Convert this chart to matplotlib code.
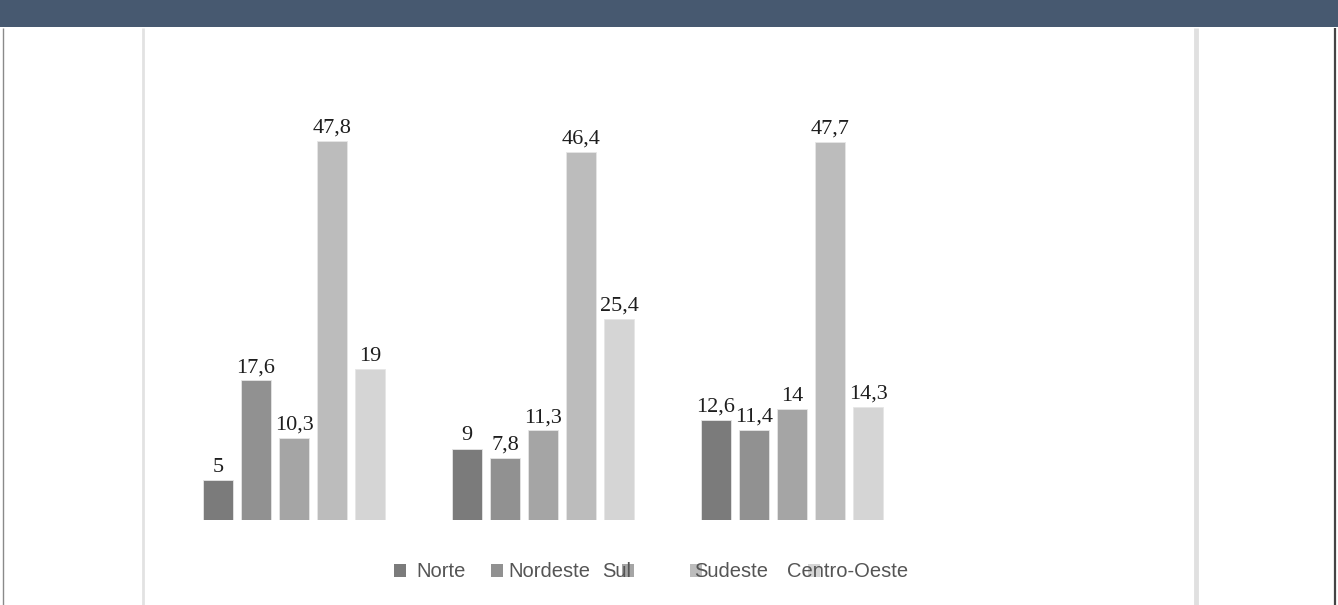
import matplotlib
matplotlib.use("Agg")
import matplotlib.pyplot as plt
from matplotlib.patches import Rectangle
from matplotlib.lines import Line2D
import numpy as np

# data
groups = ["G1", "G2", "G3"]
regions = ["Norte", "Nordeste", "Sul", "Sudeste", "Centro-Oeste"]
norte = [5, 9, 12.6]
nordeste = [17.6, 7.8, 11.4]
sul = [10.3, 11.3, 14]
sudeste = [47.8, 46.4, 47.7]
centro_oeste = [19, 25.4, 14.3]
series = [norte, nordeste, sul, sudeste, centro_oeste]

colors = ["#7b7b7b", "#919191", "#a5a5a5", "#bcbcbc", "#d5d5d5"]

W, H = 1338, 605


def fx(px):
    return px / W


def fy(py):
    return 1 - py / H


def fmt(v):
    s = f"{v:g}"
    return s.replace(".", ",")


fig = plt.figure(figsize=(W / 100, H / 100), dpi=100)
fig.patch.set_facecolor("white")

# frame lines, then header band on top
fig.add_artist(Line2D([fx(3), fx(3)], [fy(28), 0], transform=fig.transFigure,
                      color="#8a8a8a", lw=1.0, solid_capstyle="butt"))
fig.add_artist(Line2D([fx(1335), fx(1335)], [fy(28), 0], transform=fig.transFigure,
                      color="#444444", lw=1.6, solid_capstyle="butt"))
fig.add_artist(Line2D([fx(143), fx(143)], [fy(28), 0], transform=fig.transFigure,
                      color="#e2e2e2", lw=2.0, solid_capstyle="butt"))
fig.add_artist(Line2D([fx(1196), fx(1196)], [fy(28), 0], transform=fig.transFigure,
                      color="#e0e0e0", lw=3.5, solid_capstyle="butt"))
fig.add_artist(Rectangle((0, fy(27)), 1, 27 / H, transform=fig.transFigure,
                         facecolor="#475970", edgecolor="none", zorder=5))

ax = fig.add_axes([fx(143), fy(520), (1196 - 143) / W, (520 - 28) / H])
ax.set_facecolor("none")

x = np.arange(len(groups))
step = 38 / 249
width = 30 / 249
for i, (vals, col) in enumerate(zip(series, colors)):
    bars = ax.bar(x + (i - 2) * step, vals, width=width, color=col,
                  edgecolor="#e6e6e6", linewidth=0.6, label=regions[i])
    for b, v in zip(bars, vals):
        ax.annotate(fmt(v), (b.get_x() + b.get_width() / 2, b.get_height()),
                    xytext=(0, 6), textcoords="offset points",
                    ha="center", va="baseline", fontsize=16,
                    family="Liberation Serif", color="#1e1e1e")

ax.set_xlim(-(294 - 143) / 249, (1196 - 294) / 249)
ax.set_ylim(0, (520 - 28) / 7.93)
ax.axis("off")

# legend, drawn by hand to keep its overlapping layout
legend_layout = [(394, 416), (491, 508), (622, 602), (690, 694), (808, 787)]
for (sq_x, tx_x), col, name in zip(legend_layout, colors, regions):
    fig.add_artist(Rectangle((fx(sq_x), fy(577)), 12 / W, 13 / H,
                             transform=fig.transFigure, facecolor=col,
                             edgecolor="none", zorder=1))
    fig.text(fx(tx_x), fy(577), name, fontsize=14.5, family="Liberation Sans",
             color="#555555", ha="left", va="baseline", zorder=2)

fig.savefig("out.png", dpi=100)
